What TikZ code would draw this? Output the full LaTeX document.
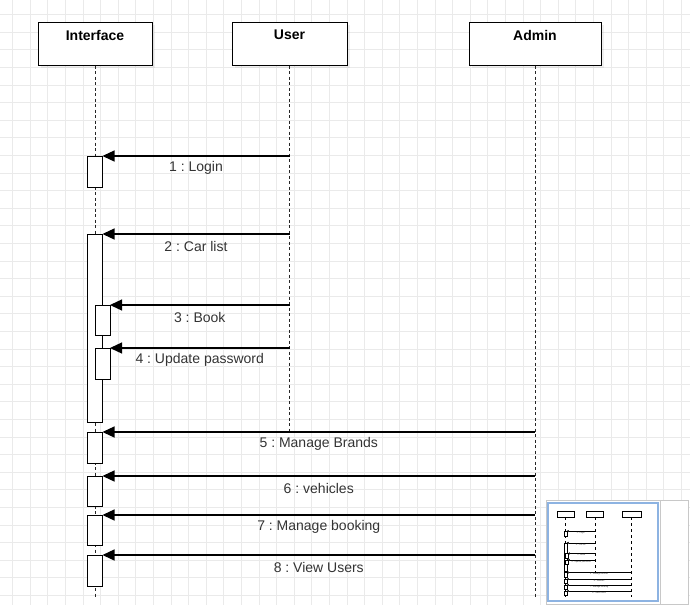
\documentclass[tikz,border=0pt]{standalone}
\usepackage{fontspec}
\setmainfont{Liberation Sans}
\usetikzlibrary{arrows.meta,shadows}
\frenchspacing

\definecolor{gridgray}{HTML}{EAEAEA}
\definecolor{labelgray}{HTML}{333333}
\definecolor{mapblue}{HTML}{8DB3E2}
\definecolor{mapframe}{HTML}{C8C8C8}

\tikzset{
	gridline/.style={gridgray,line width=0.8pt},
	actor/.style={draw,line width=1pt,fill=white,minimum height=43pt,inner sep=0pt,
		drop shadow={opacity=0.12,shadow xshift=3pt,shadow yshift=-3pt}},
	actorname/.style={font=\bfseries\fontsize{14}{16}\selectfont,anchor=north,yshift=-5pt},
	lifeline/.style={line width=1pt,dash pattern=on 3pt off 2.5pt,black!85},
	act/.style={draw,line width=1pt,fill=white,minimum width=15pt,inner sep=0pt,outer sep=0pt},
	msg/.style={line width=1.3pt,-{Triangle[length=12pt,width=11pt]}},
	msglabel/.style={midway,yshift=-12pt,text=labelgray,font=\fontsize{14}{16}\selectfont},
	mini/.style={line width=0.3pt},
	minitip/.style={mini,-{Triangle[length=2pt,width=2pt]}},
	minilabel/.style={midway,yshift=-1.6pt,text=labelgray,font=\fontsize{2.1}{2.4}\selectfont,inner sep=0pt}
}

\begin{document}
\begin{tikzpicture}[x=1pt,y=-1pt]
	\useasboundingbox (0,0) rectangle (690,605);

	% >>> background grid
	\foreach \gx in {12.5,30.1,...,690} \draw[gridline] (\gx,0) -- (\gx,605);
	\foreach \gy in {14.6,32.2,...,605} \draw[gridline] (0,\gy) -- (690,\gy);
	% <<< background grid

	% >>> lifelines
	\node[actor,minimum width=114pt,label={[actorname]north:Interface}] (iface) at (95,43.5) {};
	\node[actor,minimum width=115pt,label={[actorname]north:User}] (user) at (289.5,43.5) {};
	\node[actor,minimum width=132pt,label={[actorname]north:Admin}] (admin) at (535,43.5) {};

	\coordinate (ifaceend) at (95,598);
	\coordinate (userend) at (289.5,432);
	\coordinate (adminend) at (535,598);

	\draw[lifeline] (iface.south) -- (ifaceend);
	\draw[lifeline] (user.south) -- (userend);
	\draw[lifeline] (admin.south) -- (adminend);
	% <<< lifelines

	% >>> activations
	\node[act,minimum height=31pt] (a1) at (95,171.5) {};
	\node[act,minimum height=188pt] (a2) at (95,328) {};
	\node[act,minimum height=30pt] (a3) at (102.5,320) {};
	\node[act,minimum height=31pt] (a4) at (102.5,363.5) {};
	\node[act,minimum height=31pt] (a5) at (95,447.5) {};
	\node[act,minimum height=30pt] (a6) at (95,491) {};
	\node[act,minimum height=30pt] (a7) at (95,530) {};
	\node[act,minimum height=31pt] (a8) at (95,570.5) {};
	% <<< activations

	% >>> messages from user
	\coordinate (u1) at (a1.north -| user);
	\coordinate (u2) at (a2.north -| user);
	\coordinate (u3) at (a3.north -| user);
	\coordinate (u4) at (a4.north -| user);
	\draw[msg] (u1) -- (a1.north east) node[msglabel] {1 : Login};
	\draw[msg] (u2) -- (a2.north east) node[msglabel] {2 : Car list};
	\draw[msg] (u3) -- (a3.north east) node[msglabel] {3 : Book};
	\draw[msg] (u4) -- (a4.north east) node[msglabel] {4 : Update password};
	% <<< messages from user

	% >>> messages from admin
	\coordinate (m5) at (a5.north -| admin);
	\coordinate (m6) at (a6.north -| admin);
	\coordinate (m7) at (a7.north -| admin);
	\coordinate (m8) at (a8.north -| admin);
	\draw[msg] (m5) -- (a5.north east) node[msglabel] {5 : Manage Brands};
	\draw[msg] (m6) -- (a6.north east) node[msglabel] {6 : vehicles};
	\draw[msg] (m7) -- (a7.north east) node[msglabel] {7 : Manage booking};
	\draw[msg] (m8) -- (a8.north east) node[msglabel] {8 : View Users};
	% <<< messages from admin

	% >>> outline panel
	\draw[mapframe,fill=white] (546,500) rectangle (688,604);
	\draw[mapframe] (660,500) -- (660,604);
	\draw[mapblue,line width=1.2pt] (548,503) rectangle (658,601);
	\begin{scope}[shift={(551.3,507.7)},scale=0.15]
		\draw[mini] (38,22) rectangle (152,65);
		\draw[mini] (232,22) rectangle (347,65);
		\draw[mini] (469,22) rectangle (601,65);
		\draw[mini,dashed] (95,65) -- (95,598);
		\draw[mini,dashed] (289.5,65) -- (289.5,432);
		\draw[mini,dashed] (535,65) -- (535,598);
		\draw[mini,fill=white] (87.5,156) rectangle (102.5,187);
		\draw[mini,fill=white] (87.5,234) rectangle (102.5,422);
		\draw[mini,fill=white] (95,305) rectangle (110,335);
		\draw[mini,fill=white] (95,348) rectangle (110,379);
		\foreach \ay in {432,476,515,555}
			\draw[mini,fill=white] (87.5,\ay) rectangle (102.5,\ay+30);
		\draw[minitip] (289.5,156) -- (102.5,156) node[minilabel] {1 : Login};
		\draw[minitip] (289.5,234) -- (102.5,234) node[minilabel] {2 : Car list};
		\draw[minitip] (289.5,305) -- (110,305) node[minilabel] {3 : Book};
		\draw[minitip] (289.5,348) -- (110,348) node[minilabel] {4 : Update password};
		\draw[minitip] (535,432) -- (102.5,432) node[minilabel] {5 : Manage Brands};
		\draw[minitip] (535,476) -- (102.5,476) node[minilabel] {6 : vehicles};
		\draw[minitip] (535,515) -- (102.5,515) node[minilabel] {7 : Manage booking};
		\draw[minitip] (535,555) -- (102.5,555) node[minilabel] {8 : View Users};
	\end{scope}
	% <<< outline panel
\end{tikzpicture}
\end{document}
